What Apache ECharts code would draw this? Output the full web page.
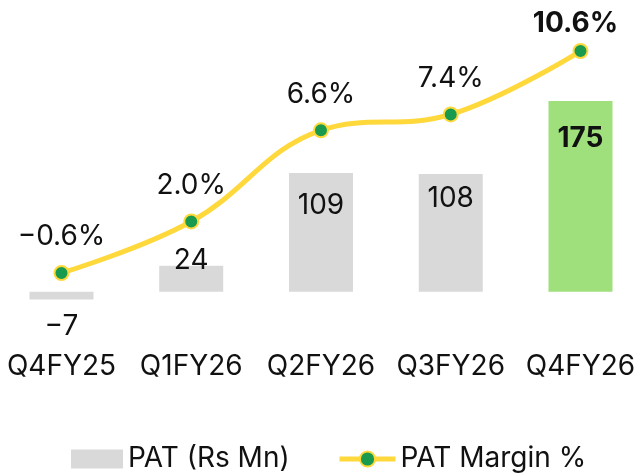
<!DOCTYPE html>
<html>
<head>
<meta charset="utf-8">
<script src="https://cdn.jsdelivr.net/npm/echarts@6/dist/echarts.min.js"></script>
<style>
  html, body { margin: 0; padding: 0; background: #fff; }
  #chart { width: 641px; height: 473px; }
</style>
</head>
<body>
<div id="chart"></div>
<script>
const quarters = ['Q4FY25', 'Q1FY26', 'Q2FY26', 'Q3FY26', 'Q4FY26']
const patValues = [-7, 24, 109, 108, 175]
const marginValues = [-0.6, 2.0, 6.6, 7.4, 10.6]

const FONT = 'Inter, "Open Sans", sans-serif'
const TEXT = '#111'
const GRAY = '#d9d9d9'
const GREEN = '#9fe07c'
const YELLOW = '#ffd83c'
const DOT = '#1a9a4e'

// per-bar label tweaks, index aligned with quarters
const barLabelTweaks = [
  { position: 'bottom', offset: [0, 13] },
  { position: 'insideTop', offset: [0, -19] },
  { position: 'insideTop', offset: [0, 19] },
  { position: 'insideTop', offset: [0, 11] },
  { position: 'insideTop', offset: [0, 24], fontWeight: 'bold' }
]
const lineLabelDistance = [14, 14, 14, 14, 5]

const chart = echarts.init(document.getElementById('chart'))

chart.setOption({
  animation: false,
  textStyle: { fontFamily: FONT },
  grid: {
    left: -3.4,
    width: 648.75,
    top: 30,
    height: 294.6,
    outerBoundsMode: 'none',
    containLabel: false
  },
  legend: [
    {
      left: 66,
      top: 440,
      itemWidth: 52,
      itemHeight: 19,
      textStyle: { fontSize: 28, color: TEXT, fontFamily: FONT },
      data: [{ name: 'PAT (Rs Mn)', icon: 'rect' }]
    },
    {
      left: 332,
      top: 440,
      itemWidth: 56,
      itemHeight: 19,
      lineStyle: { width: 5 },
      textStyle: { fontSize: 28, color: TEXT, fontFamily: FONT },
      data: ['PAT Margin %']
    }
  ],
  xAxis: {
    type: 'category',
    data: quarters,
    axisLine: { show: false, onZero: false },
    axisTick: { show: false },
    axisLabel: {
      interval: 0,
      hideOverlap: false,
      margin: 28,
      fontSize: 28,
      color: TEXT,
      fontFamily: FONT
    }
  },
  yAxis: [
    {
      type: 'value',
      min: -30,
      max: 240,
      show: false,
      splitLine: { show: false }
    },
    {
      type: 'value',
      min: -3.204,
      max: 11.66,
      show: false,
      splitLine: { show: false }
    }
  ],
  series: [
    {
      name: 'PAT (Rs Mn)',
      type: 'bar',
      barWidth: 64,
      itemStyle: { color: GRAY },
      data: patValues.map((v, i) => ({
        value: v,
        itemStyle: { color: i === patValues.length - 1 ? GREEN : GRAY },
        label: Object.assign({
          show: true,
          distance: 0,
          fontSize: 28,
          color: TEXT,
          fontFamily: FONT,
          fontWeight: 'normal',
          formatter: String(v).replace('-', '\u2212')
        }, barLabelTweaks[i])
      }))
    },
    {
      name: 'PAT Margin %',
      type: 'line',
      yAxisIndex: 1,
      smooth: 0.4,
      symbol: 'circle',
      symbolSize: 14,
      lineStyle: { color: YELLOW, width: 5 },
      itemStyle: { color: DOT, borderColor: YELLOW, borderWidth: 2 },
      z: 5,
      data: marginValues.map((v, i) => ({
        value: v,
        label: {
          show: true,
          position: 'top',
          distance: lineLabelDistance[i],
          offset: i === marginValues.length - 1 ? [-5, 0] : [0, 0],
          fontSize: 28,
          color: TEXT,
          fontFamily: FONT,
          fontWeight: i === marginValues.length - 1 ? 'bold' : 'normal',
          formatter: v.toFixed(1).replace('-', '\u2212') + '%'
        }
      }))
    }
  ]
})
</script>
</body>
</html>
